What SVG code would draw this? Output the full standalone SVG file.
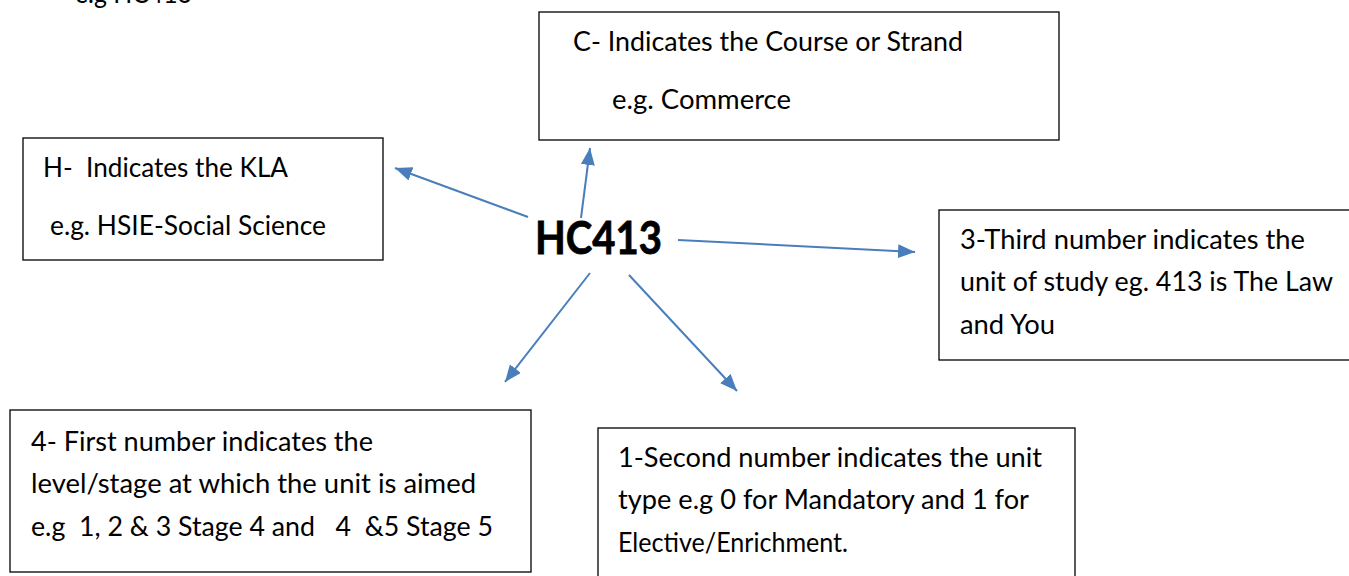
<svg xmlns="http://www.w3.org/2000/svg" width="1349" height="576" viewBox="0 0 1349 576">
<defs>
<style>
.box{fill:#fff;stroke:#000;stroke-width:1.3}
.t{font-family:Lato,"Open Sans","Liberation Sans",sans-serif;font-size:27px;fill:#000;white-space:pre}
.big{font-family:Lato,"Open Sans","Liberation Sans",sans-serif;font-size:46px;font-weight:bold;fill:#000;stroke:#000;stroke-width:0.8}
.c{stroke:#4A7EBB;stroke-width:2;fill:none}
</style>
<marker id="ah" markerUnits="userSpaceOnUse" markerWidth="18" markerHeight="14" refX="17" refY="7" orient="auto">
<path d="M0,0 L17,7 L0,14 z" fill="#4A7EBB"/>
</marker>
</defs>
<rect width="1349" height="576" fill="#fff"/>
<text class="t" x="75" y="3" textLength="117" lengthAdjust="spacingAndGlyphs">e.g HC413</text>
<g id="node-c">
<rect class="box" x="539" y="12" width="520" height="128"/>
<text class="t" x="573" y="51" textLength="390" lengthAdjust="spacingAndGlyphs">C- Indicates the Course or Strand</text>
<text class="t" x="612" y="109" textLength="179" lengthAdjust="spacingAndGlyphs">e.g. Commerce</text>
</g>
<g id="node-h">
<rect class="box" x="23" y="138" width="360" height="122"/>
<text class="t" x="43" y="177" textLength="245" lengthAdjust="spacingAndGlyphs">H-  Indicates the KLA</text>
<text class="t" x="50" y="235" textLength="276" lengthAdjust="spacingAndGlyphs">e.g. HSIE-Social Science</text>
</g>
<g id="node-3">
<rect class="box" x="939" y="210" width="420" height="150"/>
<text class="t" x="960" y="249" textLength="345" lengthAdjust="spacingAndGlyphs">3-Third number indicates the</text>
<text class="t" x="960" y="291" textLength="373" lengthAdjust="spacingAndGlyphs">unit of study eg. 413 is The Law</text>
<text class="t" x="960" y="334" textLength="95" lengthAdjust="spacingAndGlyphs">and You</text>
</g>
<g id="node-4">
<rect class="box" x="10" y="410" width="521" height="162"/>
<text class="t" x="31" y="451" textLength="342" lengthAdjust="spacingAndGlyphs">4- First number indicates the</text>
<text class="t" x="31" y="493" textLength="445" lengthAdjust="spacingAndGlyphs">level/stage at which the unit is aimed</text>
<text class="t" x="31" y="536" textLength="462" lengthAdjust="spacingAndGlyphs">e.g  1, 2 &amp; 3 Stage 4 and   4  &amp;5 Stage 5</text>
</g>
<g id="node-1">
<rect class="box" x="598" y="428" width="477" height="160"/>
<text class="t" x="618" y="467" textLength="424" lengthAdjust="spacingAndGlyphs">1-Second number indicates the unit</text>
<text class="t" x="618" y="509" textLength="411" lengthAdjust="spacingAndGlyphs">type e.g 0 for Mandatory and 1 for</text>
<text class="t" x="618" y="552" textLength="230" lengthAdjust="spacingAndGlyphs">Elective/Enrichment.</text>
</g>
<g id="node-center">
<text class="big" x="535" y="254" textLength="127" lengthAdjust="spacingAndGlyphs">HC413</text>
</g>
<g id="connectors">
<line class="c" x1="528" y1="217" x2="395" y2="168" marker-end="url(#ah)"/>
<line class="c" x1="581" y1="218" x2="590" y2="148" marker-end="url(#ah)"/>
<line class="c" x1="678" y1="240" x2="915" y2="252" marker-end="url(#ah)"/>
<line class="c" x1="590" y1="273" x2="505" y2="382" marker-end="url(#ah)"/>
<line class="c" x1="629" y1="275" x2="737" y2="391" marker-end="url(#ah)"/>
</g>
</svg>
